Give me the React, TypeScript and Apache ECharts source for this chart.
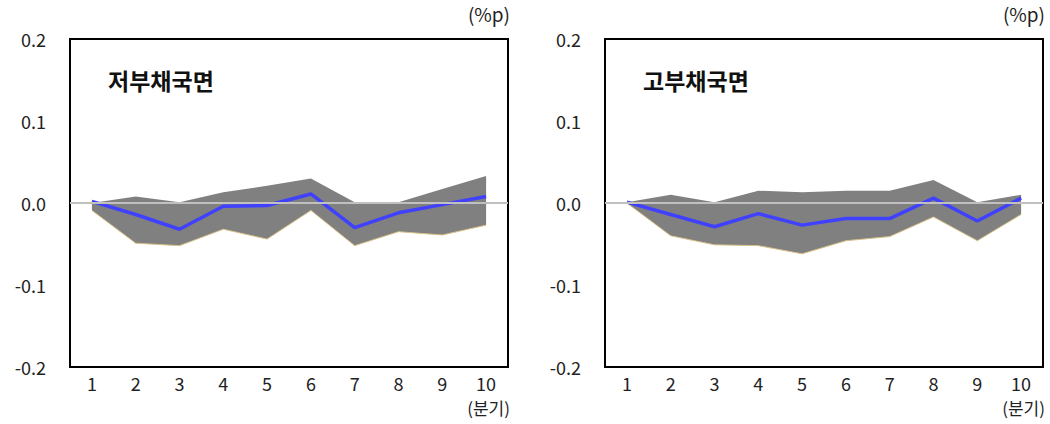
import React, { useEffect, useRef } from "react";
import * as echarts from "echarts";

const categories = ["1", "2", "3", "4", "5", "6", "7", "8", "9", "10"];

const lowDebtUpper = [0.0, 0.008, 0.001, 0.013, 0.021, 0.03, 0.001, 0.001, 0.017, 0.033];
const lowDebtLower = [-0.009, -0.049, -0.052, -0.032, -0.044, -0.009, -0.052, -0.035, -0.039, -0.027];
const lowDebtMid = [0.002, -0.014, -0.032, -0.004, -0.003, 0.011, -0.03, -0.012, -0.002, 0.008];

const highDebtUpper = [0.001, 0.01, 0.001, 0.015, 0.013, 0.015, 0.015, 0.028, 0.001, 0.01];
const highDebtLower = [0.0, -0.04, -0.051, -0.052, -0.062, -0.046, -0.041, -0.017, -0.046, -0.014];
const highDebtMid = [0.001, -0.014, -0.029, -0.013, -0.027, -0.019, -0.019, 0.006, -0.022, 0.006];

const panelTitles = ["저부채국면", "고부채국면"];
const unitLabel = "(%p)";
const xUnitLabel = "(분기)";

const FONT = "'Noto Sans CJK KR', 'Noto Sans', sans-serif";

export default function App() {
  const ref = useRef<HTMLDivElement>(null);

  useEffect(() => {
    document.body.style.margin = "0";
    if (!ref.current) return;
    const chart = echarts.init(ref.current, null, { renderer: "svg" });

    const panels = [
      { upper: lowDebtUpper, lower: lowDebtLower, mid: lowDebtMid, left: 70 },
      { upper: highDebtUpper, lower: highDebtLower, mid: highDebtMid, left: 605 },
    ];
    const gridW = 438;
    const gridTop = 39;
    const gridH = 328;

    const grids: any[] = [];
    const xAxes: any[] = [];
    const yAxes: any[] = [];
    const series: any[] = [];
    const graphics: any[] = [];

    panels.forEach((p, i) => {
      grids.push({
        left: p.left,
        top: gridTop,
        width: gridW,
        height: gridH,
        show: true,
        borderColor: "#000",
        borderWidth: 2,
        backgroundColor: "transparent",
      });
      xAxes.push({
        type: "category",
        gridIndex: i,
        data: categories,
        boundaryGap: true,
        axisLine: { show: false },
        axisTick: { show: false },
        axisLabel: { color: "#222", fontSize: 18, fontFamily: FONT, margin: 6, lineHeight: 20 },
        splitLine: { show: false },
      });
      yAxes.push({
        type: "value",
        gridIndex: i,
        min: -0.2,
        max: 0.2,
        interval: 0.1,
        axisLine: { show: false },
        axisTick: { show: false },
        splitLine: { show: false },
        axisLabel: {
          color: "#222",
          fontSize: 18,
          fontFamily: FONT,
          margin: 24,
          formatter: (v: number) => (Math.abs(v) < 1e-9 ? "0.0" : v.toFixed(1)),
        },
      });
      const stackId = "band" + i;
      series.push({
        type: "line",
        xAxisIndex: i,
        yAxisIndex: i,
        data: p.lower,
        stack: stackId,
        stackStrategy: "all",
        symbol: "none",
        lineStyle: { color: "#d8c088", width: 1 },
        z: 2,
      });
      series.push({
        type: "line",
        xAxisIndex: i,
        yAxisIndex: i,
        data: p.upper.map((u, k) => u - p.lower[k]),
        stack: stackId,
        stackStrategy: "all",
        symbol: "none",
        lineStyle: { width: 0, opacity: 0 },
        areaStyle: { color: "#808080", opacity: 1 },
        z: 2,
        markLine: {
          silent: true,
          symbol: "none",
          label: { show: false },
          lineStyle: { color: "#c0c0c0", width: 2, type: "solid" },
          data: [{ yAxis: 0 }],
        },
      });
      series.push({
        type: "line",
        xAxisIndex: i,
        yAxisIndex: i,
        data: p.mid,
        symbol: "none",
        lineStyle: { color: "#4040ff", width: 3.5 },
        z: 4,
      });

      graphics.push({
        type: "text",
        left: p.left + 38,
        top: 68,
        style: {
          text: panelTitles[i],
          fontSize: 23,
          fontWeight: "bold",
          fontFamily: FONT,
          fill: "#111",
        },
      });
      graphics.push({
        type: "text",
        right: 1050 - (p.left + gridW + 2),
        top: 4,
        style: {
          text: unitLabel,
          fontSize: 19,
          fontFamily: FONT,
          fill: "#222",
        },
      });
      graphics.push({
        type: "text",
        right: 1050 - (p.left + gridW + 2),
        top: 399,
        style: {
          text: xUnitLabel,
          fontSize: 17,
          fontFamily: FONT,
          fill: "#222",
        },
      });
    });

    chart.setOption({
      animation: false,
      backgroundColor: "#fff",
      grid: grids,
      xAxis: xAxes,
      yAxis: yAxes,
      series,
      graphic: graphics,
    });

    return () => chart.dispose();
  }, []);

  return <div ref={ref} style={{ width: 1050, height: 424 }} />;
}
